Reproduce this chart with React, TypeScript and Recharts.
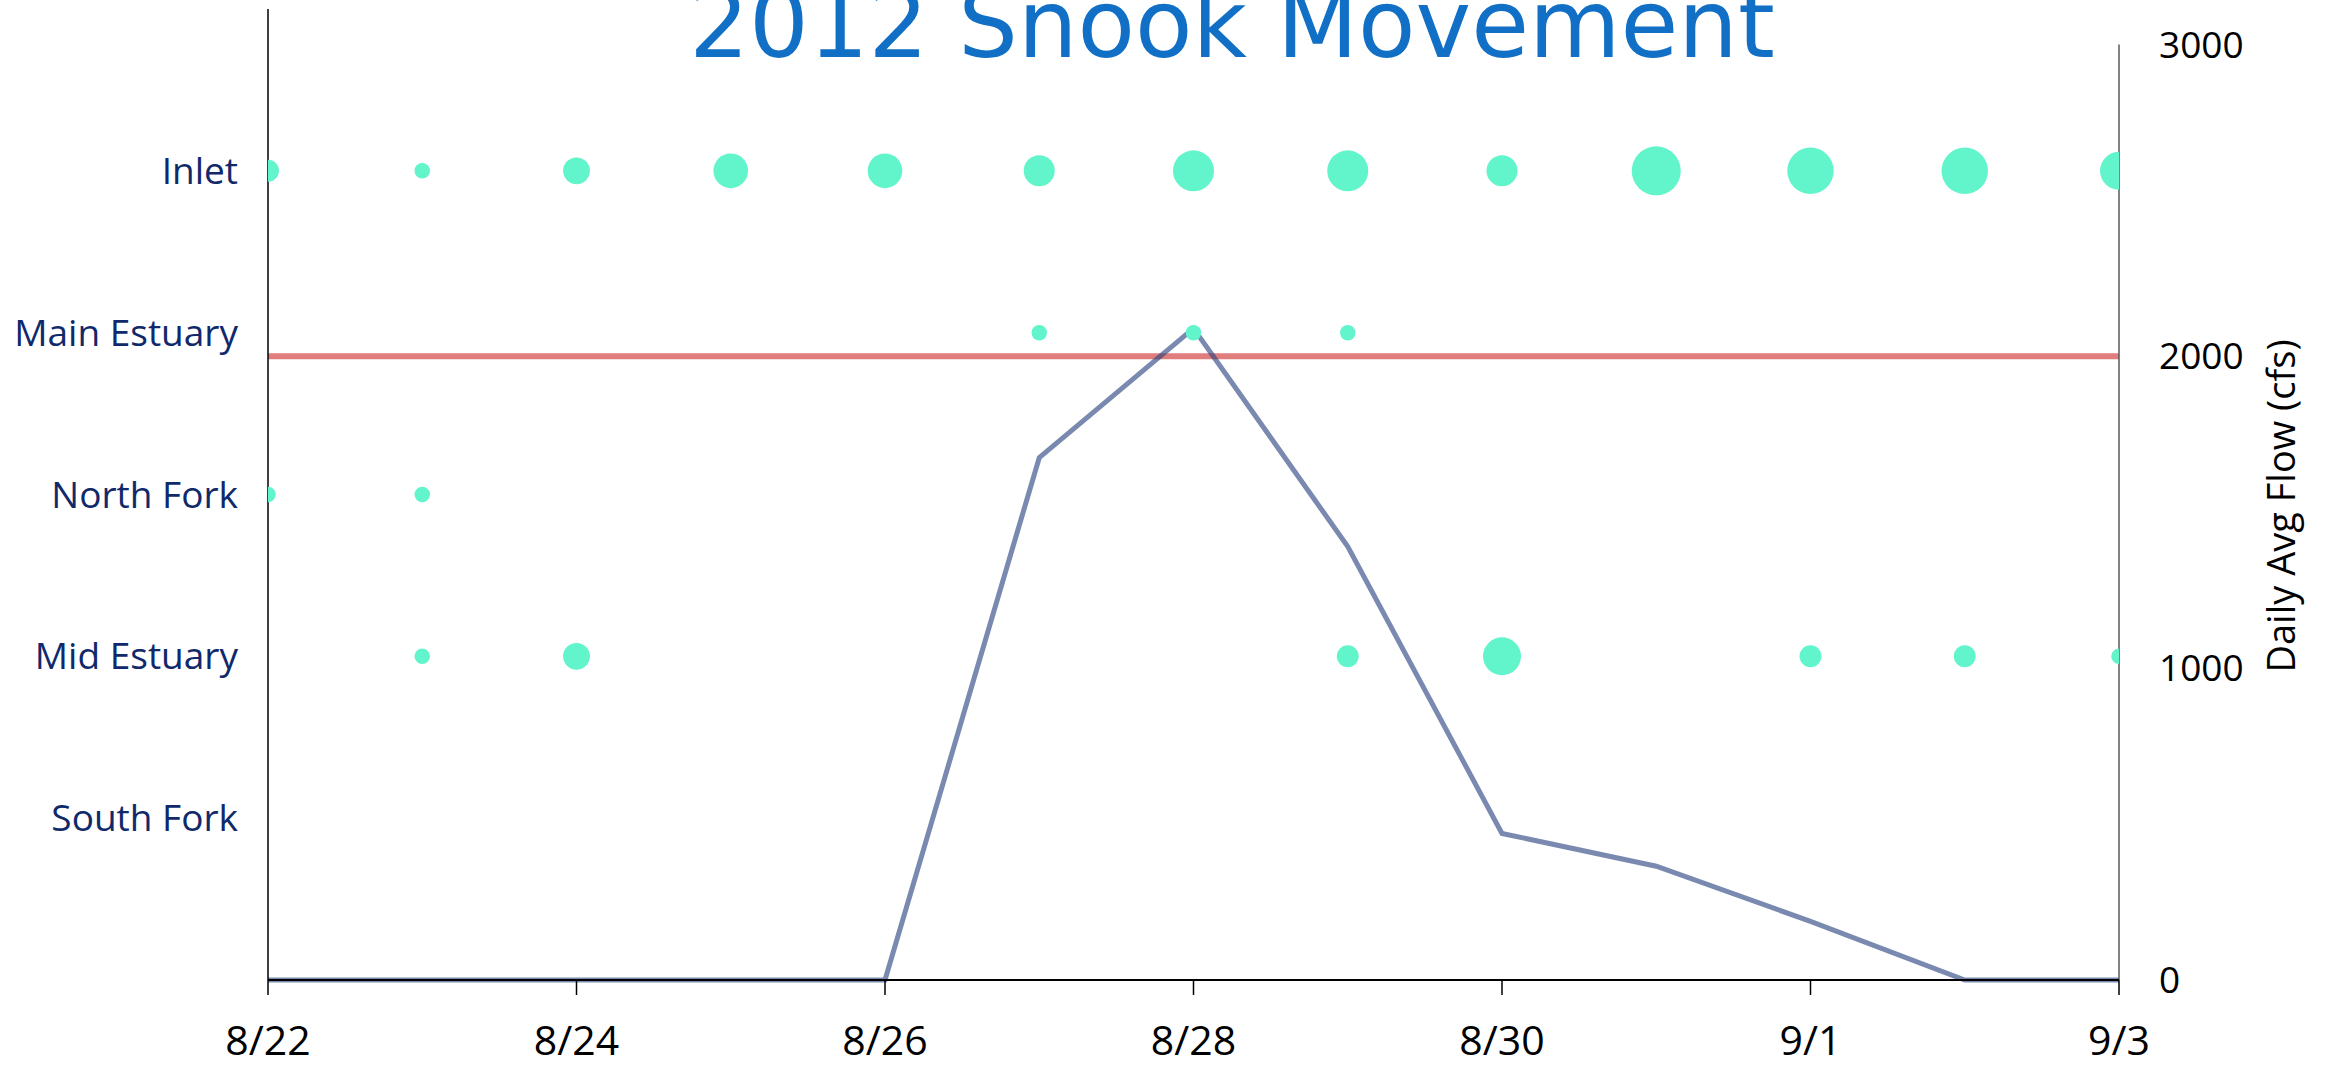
import { ComposedChart, Line, Scatter, XAxis, YAxis, ZAxis, ReferenceLine } from 'recharts';

// days of tracking, 8/22 -> 9/3
const DAYS = ['8/22', '8/23', '8/24', '8/25', '8/26', '8/27', '8/28', '8/29', '8/30', '8/31', '9/1', '9/2', '9/3'];
const DATE_TICKS = [0, 2, 4, 6, 8, 10, 12];

// receiver sites, bottom row first (row 1 .. 5)
const SITES = ['South Fork', 'Mid Estuary', 'North Fork', 'Main Estuary', 'Inlet'];

// fish detected per day at each site
const SOUTH_FORK_FISH = [0, 0, 0, 0, 0, 0, 0, 0, 0, 0, 0, 0, 0];
const MID_ESTUARY_FISH = [0, 1, 3, 0, 0, 0, 0, 2, 6, 0, 2, 2, 1];
const NORTH_FORK_FISH = [1, 1, 0, 0, 0, 0, 0, 0, 0, 0, 0, 0, 0];
const MAIN_ESTUARY_FISH = [0, 0, 0, 0, 0, 1, 1, 1, 0, 0, 0, 0, 0];
const INLET_FISH = [2, 1, 3, 5, 5, 4, 7, 7, 4, 10, 9, 9, 6];

// daily average flow (cfs)
const FLOW_CFS = [0, 0, 0, 0, 0, 1675, 2090, 1390, 470, 365, 188, 0, 0];
const FLOW_TICKS = [0, 1000, 2000, 3000];
const FLOW_LIMIT = 2000;

const BUBBLE = '#62F5CB';

const toPoints = (counts: number[], row: number) =>
  counts.map((fish, day) => ({ day, row, fish })).filter((p) => p.fish > 0);

const siteRows = [SOUTH_FORK_FISH, MID_ESTUARY_FISH, NORTH_FORK_FISH, MAIN_ESTUARY_FISH, INLET_FISH];
const flowData = FLOW_CFS.map((flow, day) => ({ day, flow }));

const App = () => {
  return (
    <div style={{ position: 'absolute', left: 0, top: 0, width: 2329, height: 1067, background: '#fff' }}>
      <ComposedChart width={2329} height={1067} margin={{ top: 9, right: 0, bottom: 0, left: 0 }}>
        <XAxis
          xAxisId={0}
          dataKey="day"
          type="number"
          domain={[0, 12]}
          ticks={DATE_TICKS}
          interval={0}
          tickFormatter={(d) => DAYS[d]}
          height={87}
          axisLine={{ stroke: '#000', strokeWidth: 2 }}
          tickLine={{ stroke: '#000', strokeWidth: 1.5 }}
          tickSize={15}
          tickMargin={31}
          tick={{ fill: '#000', fontSize: 41, fontFamily: 'Open Sans' }}
        />
        {/* same scale, hidden: lets the bubbles be clipped at the plot edges */}
        <XAxis xAxisId="clip" dataKey="day" type="number" domain={[0, 12]} allowDataOverflow hide />
        <YAxis
          yAxisId="left"
          dataKey="row"
          type="number"
          domain={[0, 6]}
          ticks={[1, 2, 3, 4, 5]}
          interval={0}
          tickFormatter={(r) => SITES[r - 1]}
          width={268}
          allowDataOverflow
          axisLine={{ stroke: '#000', strokeWidth: 1.5 }}
          tickLine={false}
          tickSize={0}
          tickMargin={30}
          tick={{ fill: '#10296B', fontSize: 37, fontFamily: 'Open Sans' }}
        />
        <YAxis
          yAxisId="right"
          orientation="right"
          type="number"
          domain={[0, 3114]}
          ticks={FLOW_TICKS}
          interval={0}
          width={210}
          axisLine={false}
          tickLine={false}
          tickSize={0}
          tickMargin={40}
          tick={{ fill: '#000', fontSize: 37, fontFamily: 'Open Sans' }}
        />
        <ZAxis dataKey="fish" type="number" domain={[0, 10]} range={[0, 1887]} />

        {siteRows.map((counts, i) => (
          <Scatter
            key={SITES[i]}
            name={SITES[i]}
            data={toPoints(counts, i + 1)}
            xAxisId="clip"
            yAxisId="left"
            fill={BUBBLE}
            isAnimationActive={false}
          />
        ))}

        <ReferenceLine yAxisId="right" y={FLOW_LIMIT} stroke="#E07E7E" strokeWidth={6} />
        <Line
          data={flowData}
          dataKey="flow"
          yAxisId="right"
          type="linear"
          stroke="#27407E"
          strokeOpacity={0.62}
          strokeWidth={5}
          dot={false}
          activeDot={false}
          isAnimationActive={false}
        />
        <ReferenceLine
          yAxisId="right"
          segment={[{ x: 12, y: 0 }, { x: 12, y: 3000 }]}
          stroke="#595959"
          strokeWidth={1.5}
        />
      </ComposedChart>

      <svg
        width={2329}
        height={1067}
        style={{ position: 'absolute', left: 0, top: 0, pointerEvents: 'none' }}
      >
        <text x={1232} y={57} textAnchor="middle" fontFamily="DejaVu Sans" fontSize={94} fill="#1170C6">
          2012 Snook Movement
        </text>
        <text
          transform="translate(2295, 506) rotate(-90)"
          textAnchor="middle"
          fontFamily="Open Sans"
          fontSize={38}
          fill="#000"
        >
          Daily Avg Flow (cfs)
        </text>
      </svg>
    </div>
  );
};

export default App;
